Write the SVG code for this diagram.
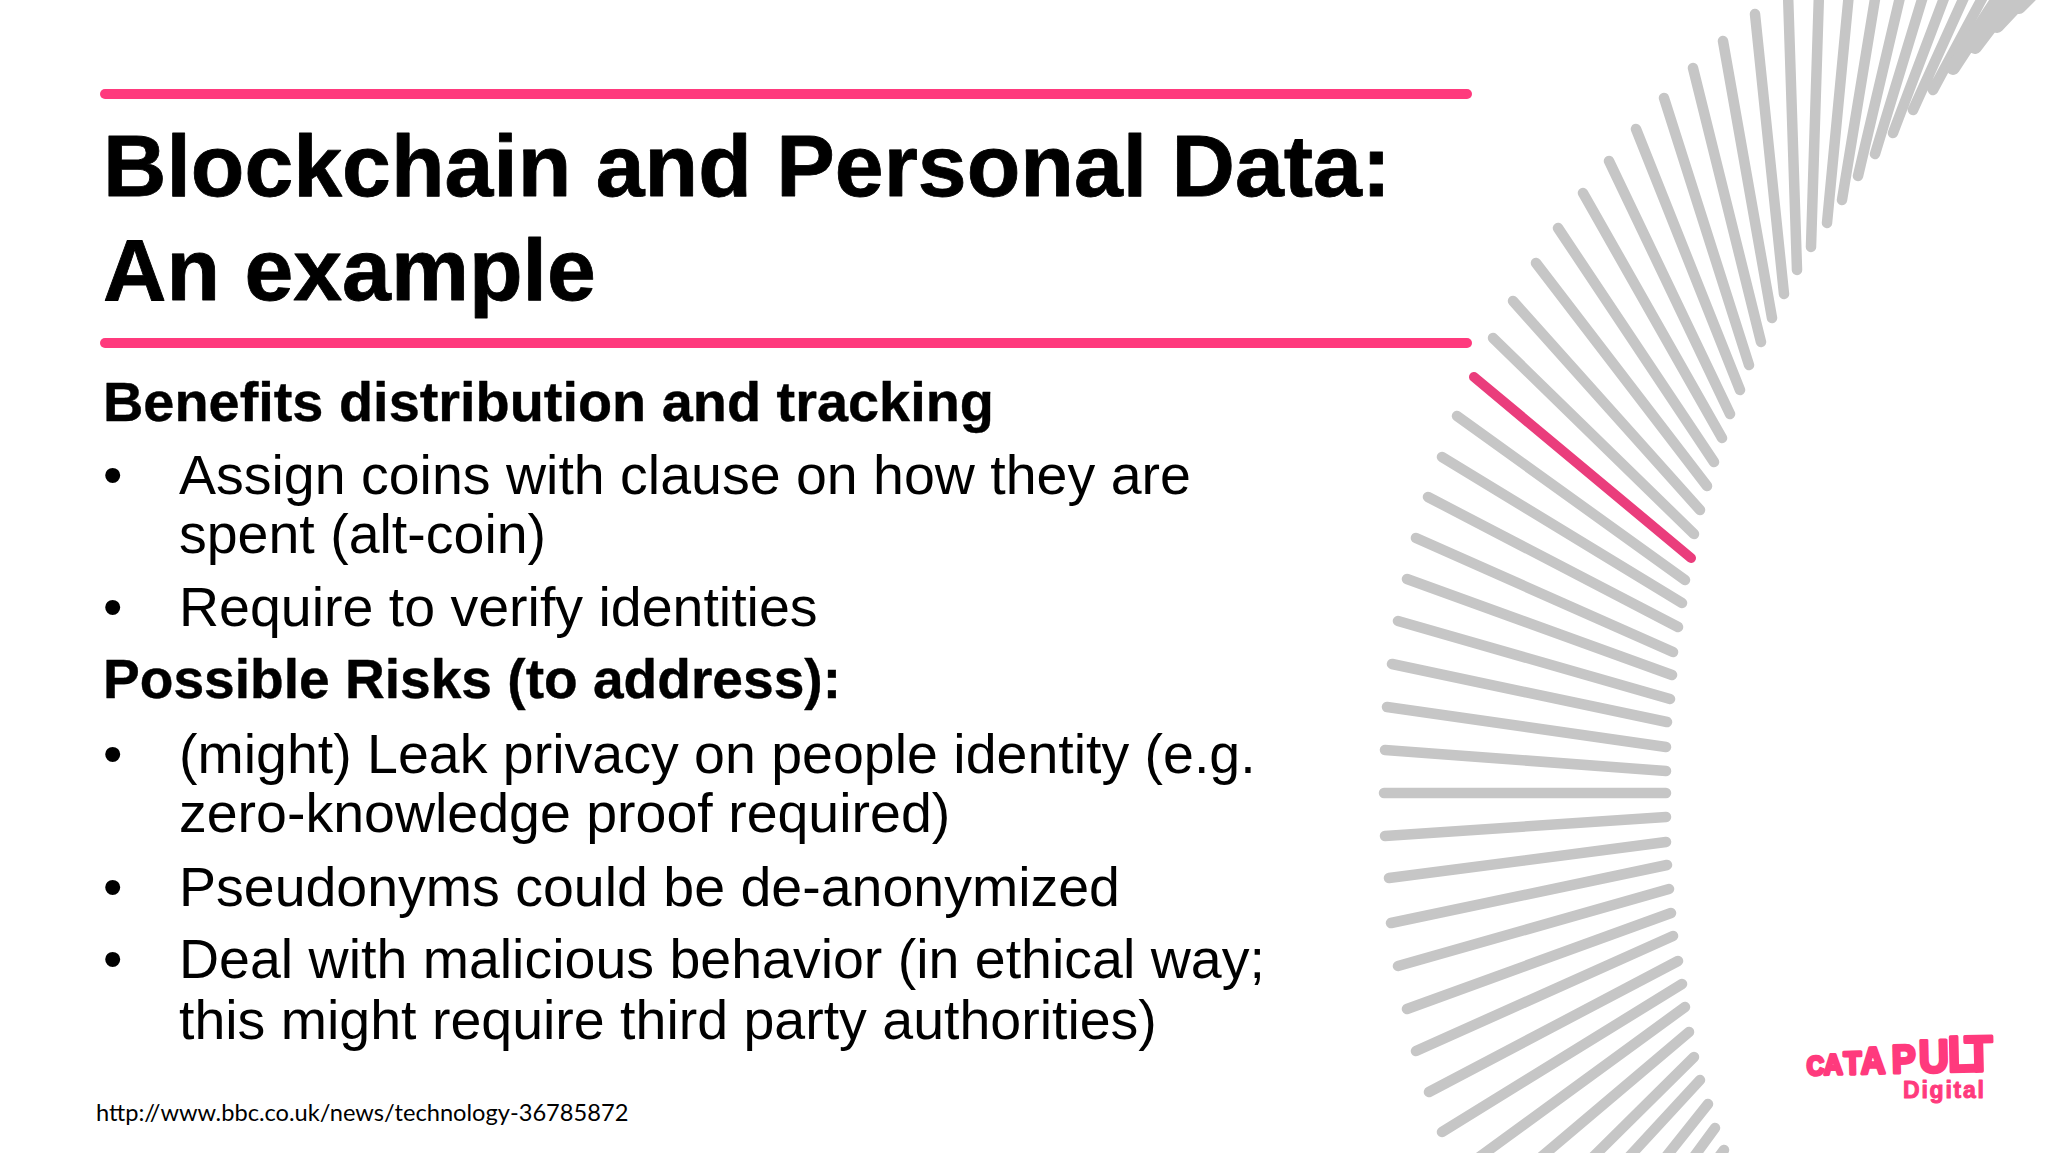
<svg xmlns="http://www.w3.org/2000/svg" width="2048" height="1153" viewBox="0 0 2048 1153">
<style>
.r{stroke:#c6c6c6;stroke-width:10.5;stroke-linecap:round;fill:none}
.b{stroke:#ff3a7d;stroke-width:10;stroke-linecap:round}
text{font-family:"Liberation Sans",Arial,sans-serif;fill:#000}
.t{font-size:87.8px;font-weight:bold;stroke:#000;stroke-width:.8;stroke-linejoin:round}
.h{font-size:55.6px;font-weight:bold;stroke:#000;stroke-width:.4;stroke-linejoin:round}
.p{font-size:55.5px}
.f{font-family:Lato,"Open Sans",sans-serif;font-size:23.65px}
.l{font-weight:bold;fill:#ff3a7d;stroke:#ff3a7d;stroke-width:3;stroke-linejoin:round}
.d{font-size:23px;font-weight:bold;fill:#ff3a7d;stroke:#ff3a7d;stroke-width:1;stroke-linejoin:round}
</style>
<rect width="2048" height="1153" fill="#fff"/>
<g id="rays">
<path class="r" d="M1493 338L1694 534M1513 301L1700 510M1536 263L1707 486M1558 228L1714 462M1583 193L1722 438M1609 161L1730 414M1636 129L1740 390M1664 98L1749 365M1693 68L1761 342M1723 41L1772 318M1755 14L1784 294M1788 -7L1797 270M1819 -7L1811 247M1849 -7L1827 223M1876 -7L1842 200M1901 -7L1858 176M1924 -7L1875 154M1946 -7L1893 133M1966 -7L1913 110M1985 -7L1933 90"/>
<path class="r" style="stroke-width:14" d="M2002 -7L1953 68M2016 -7L1975 47M2028 -7L1997 26M2036 -10L2019 7"/>
<path class="r" d="M1457 416L1685 580M1442 457L1682 603M1428 497L1678 627M1416 538L1673 652M1407 579L1672 675M1398 621L1670 699M1392 664L1667 722M1387 707L1666 747M1385 750L1666 771M1384 793L1666 793M1385 836L1666 817M1389 878L1666 842M1391 923L1667 865M1398 966L1669 889M1407 1009L1671 913M1416 1051L1673 936M1429 1092L1678 961M1442 1132L1682 984M1478 1158L1685 1007M1540 1158L1689 1032M1592 1158L1694 1057M1628 1158L1700 1080M1665 1158L1708 1104M1693 1158L1715 1128M1718 1158L1724 1150"/>
<path d="M1474 377L1691 558" stroke="#ea3d7c" stroke-width="10" stroke-linecap="round"/>
</g>
<g id="title">
<line class="b" x1="105" y1="94" x2="1467" y2="94"/>
<line class="b" x1="105" y1="343" x2="1467" y2="343"/>
<text class="t" x="103" y="196">Blockchain and Personal Data:</text>
<text class="t" x="103" y="300">An example</text>
</g>
<g id="body">
<text class="h" x="103" y="421" textLength="891" lengthAdjust="spacingAndGlyphs">Benefits distribution and tracking</text>
<text class="p" x="103" y="494">•</text><text class="p" x="179" y="494">Assign coins with clause on how they are</text>
<text class="p" x="179" y="553">spent (alt-coin)</text>
<text class="p" x="103" y="626">•</text><text class="p" x="179" y="626">Require to verify identities</text>
<text class="h" x="103" y="698" textLength="738" lengthAdjust="spacingAndGlyphs">Possible Risks (to address):</text>
<text class="p" x="103" y="773">•</text><text class="p" x="179" y="773">(might) Leak privacy on people identity (e.g.</text>
<text class="p" x="179" y="832">zero-knowledge proof required)</text>
<text class="p" x="103" y="906">•</text><text class="p" x="179" y="906">Pseudonyms could be de-anonymized</text>
<text class="p" x="103" y="978">•</text><text class="p" x="179" y="978">Deal with malicious behavior (in ethical way;</text>
<text class="p" x="179" y="1039">this might require third party authorities)</text>
</g>
<text id="source" class="f" x="96" y="1121">http://www.bbc.co.uk/news/technology-36785872</text>
<g id="logo">
<text class="l" transform="translate(1807 1075) rotate(-1.3) scale(1 1.1)"><tspan x="0" font-size="24">C</tspan><tspan x="17" font-size="26">A</tspan><tspan x="37" font-size="29">T</tspan><tspan x="54" font-size="34">A</tspan><tspan x="85" font-size="36">P</tspan><tspan x="112" font-size="42">U</tspan><tspan x="141" font-size="46">L</tspan><tspan x="158" font-size="46">T</tspan></text>
<text class="d" x="1903" y="1098" textLength="81" lengthAdjust="spacing">Digital</text>
</g>
</svg>
